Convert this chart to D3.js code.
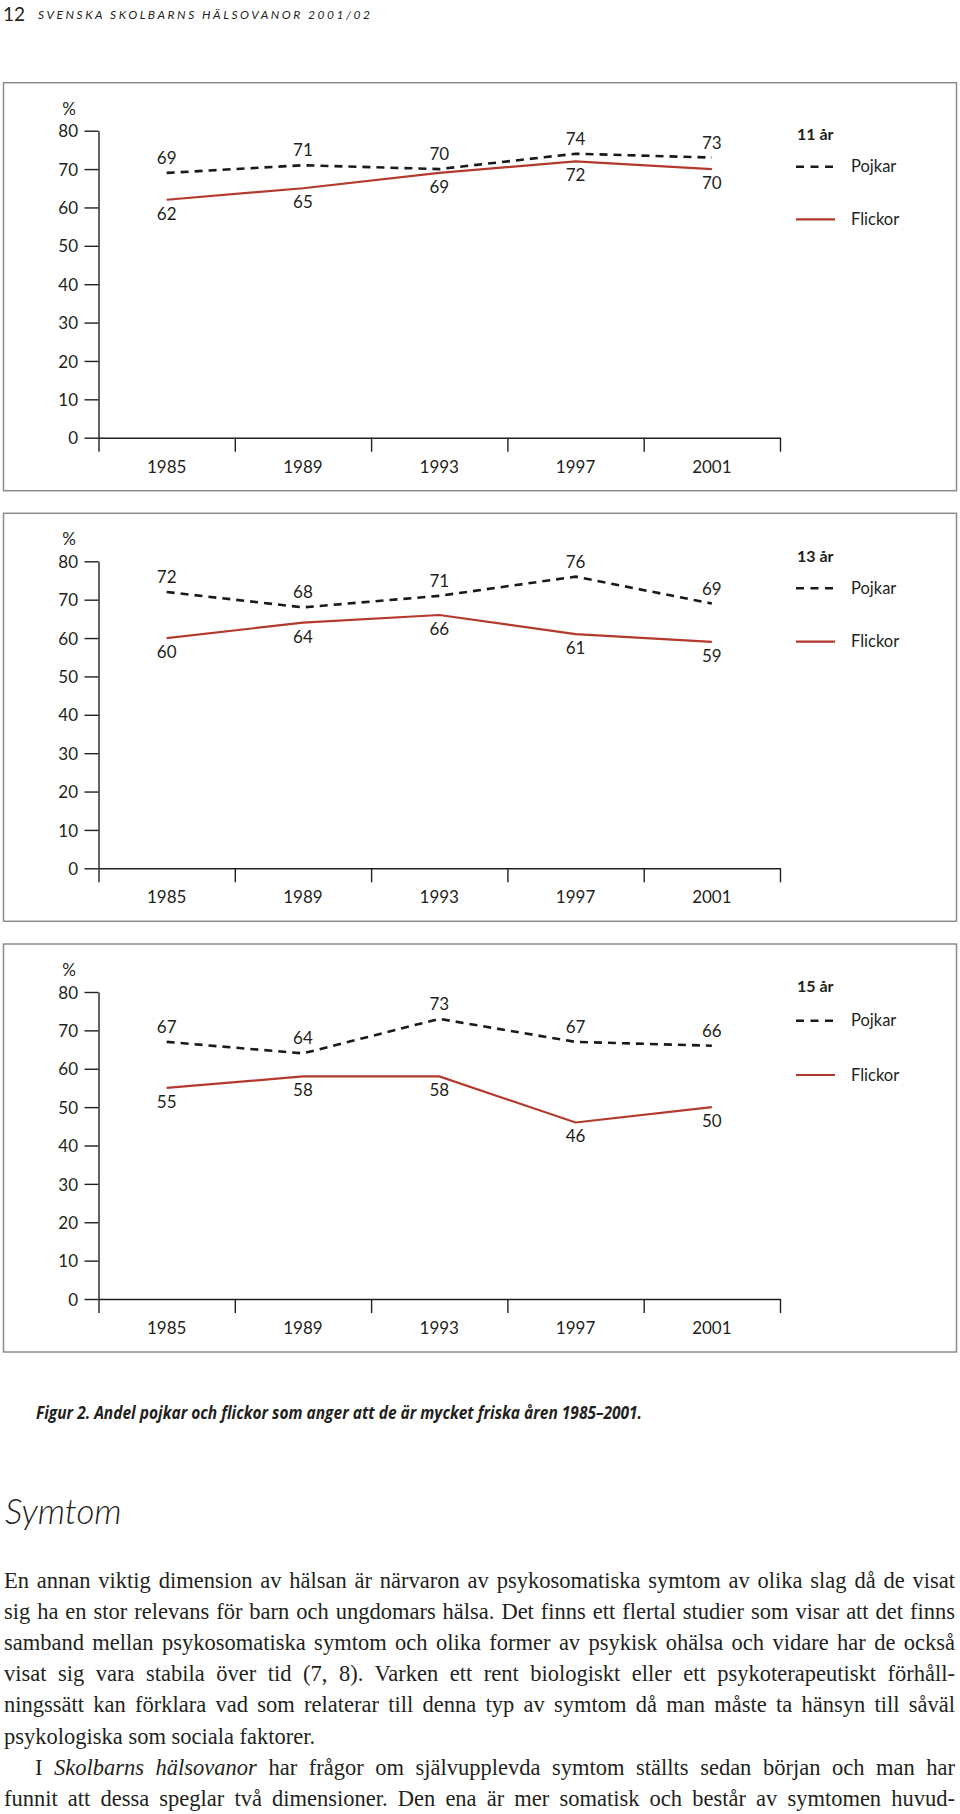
<!DOCTYPE html>
<html><head><meta charset="utf-8">
<script src="https://cdn.jsdelivr.net/npm/d3@7"></script>
<style>
html,body{margin:0;padding:0;background:#fff;}
svg{display:block;}
</style></head><body>
<svg id="page" width="960" height="1814"></svg>
<script>
// ---------- data ----------
const years = ["1985", "1989", "1993", "1997", "2001"];
const ageGroups = ["11 år", "13 år", "15 år"];
const seriesNames = ["Pojkar", "Flickor"];
const yTicks = [0, 10, 20, 30, 40, 50, 60, 70, 80];
const pojkar11 = [69, 71, 70, 74, 73];
const flickor11 = [62, 65, 69, 72, 70];
const pojkar13 = [72, 68, 71, 76, 69];
const flickor13 = [60, 64, 66, 61, 59];
const pojkar15 = [67, 64, 73, 67, 66];
const flickor15 = [55, 58, 58, 46, 50];

const headerNumber = "12";
const headerTitle = "SVENSKA SKOLBARNS HÄLSOVANOR 2001/02";
const captionText = "Figur 2. Andel pojkar och flickor som anger att de är mycket friska åren 1985–2001.";
const sectionTitle = "Symtom";
const bodyLines = [
  "En annan viktig dimension av hälsan är närvaron av psykosomatiska symtom av olika slag då de visat",
  "sig ha en stor relevans för barn och ungdomars hälsa. Det finns ett flertal studier som visar att det finns",
  "samband mellan psykosomatiska symtom och olika former av psykisk ohälsa och vidare har de också",
  "visat sig vara stabila över tid (7, 8). Varken ett rent biologiskt eller ett psykoterapeutiskt förhåll-",
  "ningssätt kan förklara vad som relaterar till denna typ av symtom då man måste ta hänsyn till såväl",
  "psykologiska som sociala faktorer."
];
const bodyLine7 = [["I ", false], ["Skolbarns hälsovanor", true], [" har frågor om självupplevda symtom ställts sedan början och man har", false]];
const bodyLine8 = "funnit att dessa speglar två dimensioner. Den ena är mer somatisk och består av symtomen huvud-";

// ---------- layout ----------
const ink = "#231f20";
const red = "#b3392d";
const sans = "Lato, 'Open Sans', sans-serif";
const serif = "'Liberation Serif', 'Times New Roman', serif";

const svg = d3.select("#page");

svg.append("text").attr("x", 3).attr("y", 21)
  .attr("font-family", sans).attr("font-size", 19).attr("fill", ink)
  .text(headerNumber);
svg.append("text").attr("x", 38).attr("y", 19)
  .attr("font-family", sans).attr("font-size", 12).attr("font-style", "italic")
  .attr("fill", ink).attr("textLength", 332).attr("lengthAdjust", "spacing")
  .text(headerTitle);

const panels = [
  { title: ageGroups[0], boys: pojkar11, girls: flickor11 },
  { title: ageGroups[1], boys: pojkar13, girls: flickor13 },
  { title: ageGroups[2], boys: pojkar15, girls: flickor15 }
];
const layout = [
  { top: 82.7, legTitle: 57, legB: 84, legG: 136.6 },
  { top: 513.3, legTitle: 48.4, legB: 75, legG: 128.4 },
  { top: 944, legTitle: 47.7, legB: 76.7, legG: 131 }
];

const x0 = 98.5, x1 = 780, yBase = 355, yTop = 48;
const numSize = 17;

panels.forEach((p, i) => {
  const L = layout[i];
  const g = svg.append("g").attr("transform", `translate(0,${L.top})`);
  g.append("rect").attr("x", 3.5).attr("y", 0).attr("width", 953).attr("height", 408)
    .attr("fill", "none").attr("stroke", "#8c8c8c").attr("stroke-width", 1.5);

  const x = d3.scaleBand().domain(years).range([x0, x1]).padding(0);
  const xb = d3.scaleLinear().domain([0, years.length]).range([x0, x1]);
  const y = d3.scaleLinear().domain([0, 80]).range([yBase, yTop]);
  const cx = d => x(d) + x.bandwidth() / 2;

  // y axis
  const ya = g.append("g").attr("transform", `translate(${x0},0)`)
    .call(d3.axisLeft(y).tickValues(yTicks).tickSize(14).tickSizeOuter(0).tickPadding(6.5));
  ya.attr("font-family", sans).attr("font-size", numSize);
  ya.selectAll("path,line").attr("stroke", ink).attr("stroke-width", 1.4);
  ya.selectAll("text").attr("fill", ink).attr("dy", "0.36em");

  g.append("text").attr("x", 69).attr("y", 32).attr("text-anchor", "middle")
    .attr("font-family", sans).attr("font-size", numSize).attr("fill", ink).text("%");

  // x axis with boundary ticks
  const xa = g.append("g").attr("transform", `translate(0,${yBase})`)
    .call(d3.axisBottom(xb).tickValues(d3.range(years.length + 1)).tickFormat("").tickSize(14).tickSizeOuter(0));
  xa.selectAll("path,line").attr("stroke", ink).attr("stroke-width", 1.4);

  const xl = g.append("g").attr("transform", `translate(0,${yBase})`)
    .call(d3.axisBottom(x).tickSize(0).tickPadding(23));
  xl.select(".domain").remove();
  xl.attr("font-family", sans).attr("font-size", numSize);
  xl.selectAll("text").attr("fill", ink);

  // lines
  const line = d3.line().x((d, j) => cx(years[j])).y(d => y(d));
  g.append("path").datum(p.girls).attr("d", line).attr("fill", "none")
    .attr("stroke", red).attr("stroke-width", 2.2);
  g.append("path").datum(p.boys).attr("d", line).attr("fill", "none")
    .attr("stroke", "#1a1a1a").attr("stroke-width", 2.6).attr("stroke-dasharray", "8,6");

  // value labels
  g.append("g").selectAll("text").data(p.boys).join("text")
    .attr("x", (d, j) => cx(years[j])).attr("y", d => y(d) - 9)
    .attr("text-anchor", "middle").attr("font-family", sans).attr("font-size", numSize)
    .attr("fill", ink).text(d => d);
  g.append("g").selectAll("text").data(p.girls).join("text")
    .attr("x", (d, j) => cx(years[j])).attr("y", d => y(d) + 20)
    .attr("text-anchor", "middle").attr("font-family", sans).attr("font-size", numSize)
    .attr("fill", ink).text(d => d);

  // legend
  g.append("text").attr("x", 797).attr("y", L.legTitle)
    .attr("font-family", sans).attr("font-size", 16).attr("font-weight", "bold")
    .attr("fill", ink).text(p.title);
  g.append("line").attr("x1", 796).attr("x2", 833).attr("y1", L.legB).attr("y2", L.legB)
    .attr("stroke", "#1a1a1a").attr("stroke-width", 2.6).attr("stroke-dasharray", "8,6.5");
  g.append("text").attr("x", 851).attr("y", L.legB + 5.5)
    .attr("font-family", sans).attr("font-size", 16.5).attr("fill", ink).text(seriesNames[0]);
  g.append("line").attr("x1", 796).attr("x2", 835).attr("y1", L.legG).attr("y2", L.legG)
    .attr("stroke", red).attr("stroke-width", 2.2);
  g.append("text").attr("x", 851).attr("y", L.legG + 5.5)
    .attr("font-family", sans).attr("font-size", 16.5).attr("fill", ink).text(seriesNames[1]);
});

// caption
svg.append("text").attr("x", 36).attr("y", 1419)
  .attr("font-family", "'Liberation Sans Narrow', 'Open Sans', sans-serif")
  .attr("font-size", 18).attr("font-weight", "bold").attr("font-style", "italic")
  .attr("fill", ink).attr("textLength", 606).attr("lengthAdjust", "spacingAndGlyphs")
  .text(captionText);

// section title
svg.append("text").attr("x", 5).attr("y", 1524)
  .attr("font-family", sans).attr("font-size", 35).attr("font-style", "italic")
  .attr("font-weight", 300).attr("fill", ink).text(sectionTitle);

// body
const bodyTop = 1588, lh = 31.1, bodySize = 22.5;
function justify(el, width) {
  const nat = el.node().getComputedTextLength();
  const txt = el.text();
  const spaces = (txt.match(/ /g) || []).length;
  if (nat < width && spaces > 0) {
    el.attr("word-spacing", (width - nat) / spaces);
  } else if (nat > width) {
    el.attr("textLength", width).attr("lengthAdjust", "spacingAndGlyphs");
  }
}
bodyLines.forEach((t, k) => {
  const el = svg.append("text").attr("x", 4).attr("y", bodyTop + k * lh)
    .attr("font-family", serif).attr("font-size", bodySize).attr("fill", ink).text(t);
  if (k !== 5) justify(el, 951);
});
const t7 = svg.append("text").attr("x", 35).attr("y", bodyTop + 6 * lh)
  .attr("font-family", serif).attr("font-size", bodySize).attr("fill", ink);
bodyLine7.forEach(([s, it]) => t7.append("tspan").attr("font-style", it ? "italic" : "normal").text(s));
justify(t7, 920);
const t8 = svg.append("text").attr("x", 4).attr("y", bodyTop + 7 * lh)
  .attr("font-family", serif).attr("font-size", bodySize).attr("fill", ink).text(bodyLine8);
justify(t8, 951);
</script>
</body></html>
